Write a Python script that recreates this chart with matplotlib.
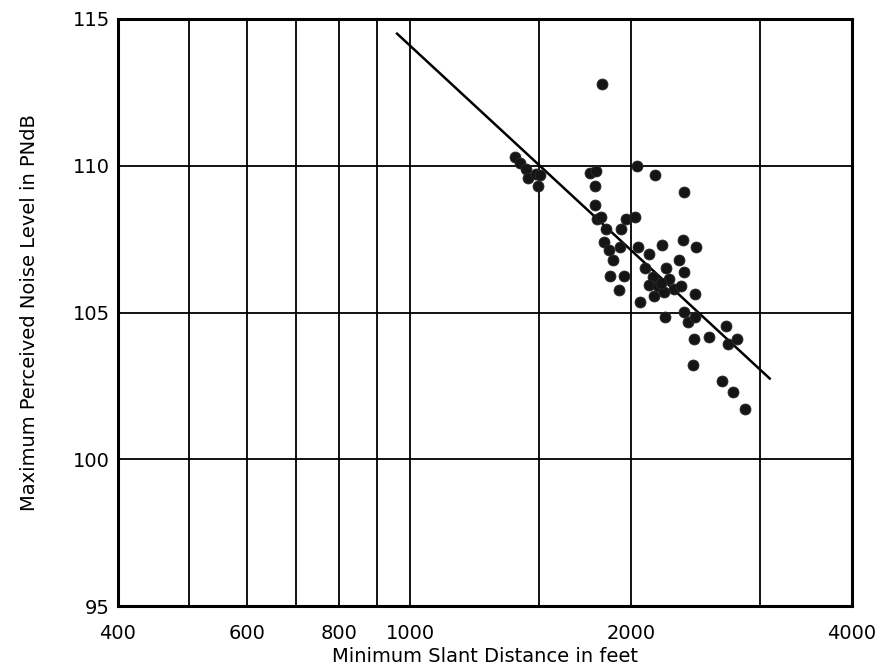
import matplotlib
matplotlib.use("Agg")
import matplotlib.pyplot as plt
from matplotlib.ticker import FixedLocator, NullFormatter

# Data (slant distance in feet, PNdB)
dist_ft = [1389, 1413, 1438, 1446, 1484, 1504, 1492,
           1760, 1792, 1788, 1788, 1795, 1820, 1849, 1938, 1969, 2025,
           2035, 2159, 2365, 1835, 1868, 1888, 1934, 2042, 2118, 2204,
           2352, 2453, 2323, 2092, 2232, 2360, 1874, 1958, 1924, 2059,
           2152, 2141, 2118, 2175, 2221, 2256, 2287, 2340, 2198, 2445,
           2225, 2365, 2389, 2448, 2435, 2558, 2696, 2710, 2790, 2432,
           2659, 2753, 2855, 1825]
pndb = [110.31, 110.11, 109.89, 109.57, 109.72, 109.68, 109.32,
        109.74, 109.83, 109.32, 108.67, 108.20, 108.26, 107.84, 107.86, 108.20, 108.24,
        110.00, 109.69, 109.09, 107.39, 107.13, 106.78, 107.24, 107.22, 106.99, 107.30,
        107.47, 107.22, 106.78, 106.53, 106.53, 106.39, 106.23, 106.25, 105.77, 105.35,
        105.55, 106.22, 105.94, 105.91, 105.70, 106.14, 105.80, 105.90, 106.02, 105.63,
        104.83, 105.02, 104.66, 104.86, 104.09, 104.18, 104.53, 103.94, 104.09, 103.20,
        102.65, 102.28, 101.70, 112.78]

# Fitted line end points
fit_x = [960, 3090]
fit_y = [114.5, 102.75]

x_tick_values = [400, 600, 800, 1000, 2000, 4000]
x_tick_labels = ["400", "600", "800", "1000", "2000", "4000"]
x_grid_values = [500, 700, 900, 1500, 3000]
y_tick_values = [95, 100, 105, 110, 115]

plt.rcParams['font.family'] = ['DejaVu Sans']

fig = plt.figure(figsize=(8.78, 6.71), dpi=100)
ax = fig.add_axes([118 / 878, 1 - 606 / 671, (852 - 118) / 878, (606 - 19) / 671])

ax.set_xscale('log')
ax.set_xlim(400, 4000)
ax.set_ylim(95, 115)

ax.xaxis.set_major_locator(FixedLocator(x_tick_values))
ax.set_xticklabels(x_tick_labels)
ax.xaxis.set_minor_locator(FixedLocator(x_grid_values))
ax.xaxis.set_minor_formatter(NullFormatter())
ax.set_yticks(y_tick_values)

ax.tick_params(axis='both', which='both', length=0, labelsize=14, colors='black')
ax.tick_params(axis='x', pad=13)
ax.tick_params(axis='y', pad=6)

ax.grid(True, which='both', axis='x', color='black', linewidth=1.3)
ax.grid(True, which='major', axis='y', color='black', linewidth=1.3)
ax.set_axisbelow(True)

for sp in ax.spines.values():
    sp.set_linewidth(2.2)
    sp.set_color('black')

ax.plot(fit_x, fit_y, color='black', linewidth=1.8, zorder=3)
ax.scatter(dist_ft, pndb, s=62, color='#151515', edgecolors='#2a2a2a',
           linewidths=0.6, zorder=4)

ax.set_xlabel("Minimum Slant Distance in feet", fontsize=14, labelpad=3)
ax.set_ylabel("Maximum Perceived Noise Level in PNdB", fontsize=14, labelpad=24)

fig.savefig("out.png", dpi=100)
